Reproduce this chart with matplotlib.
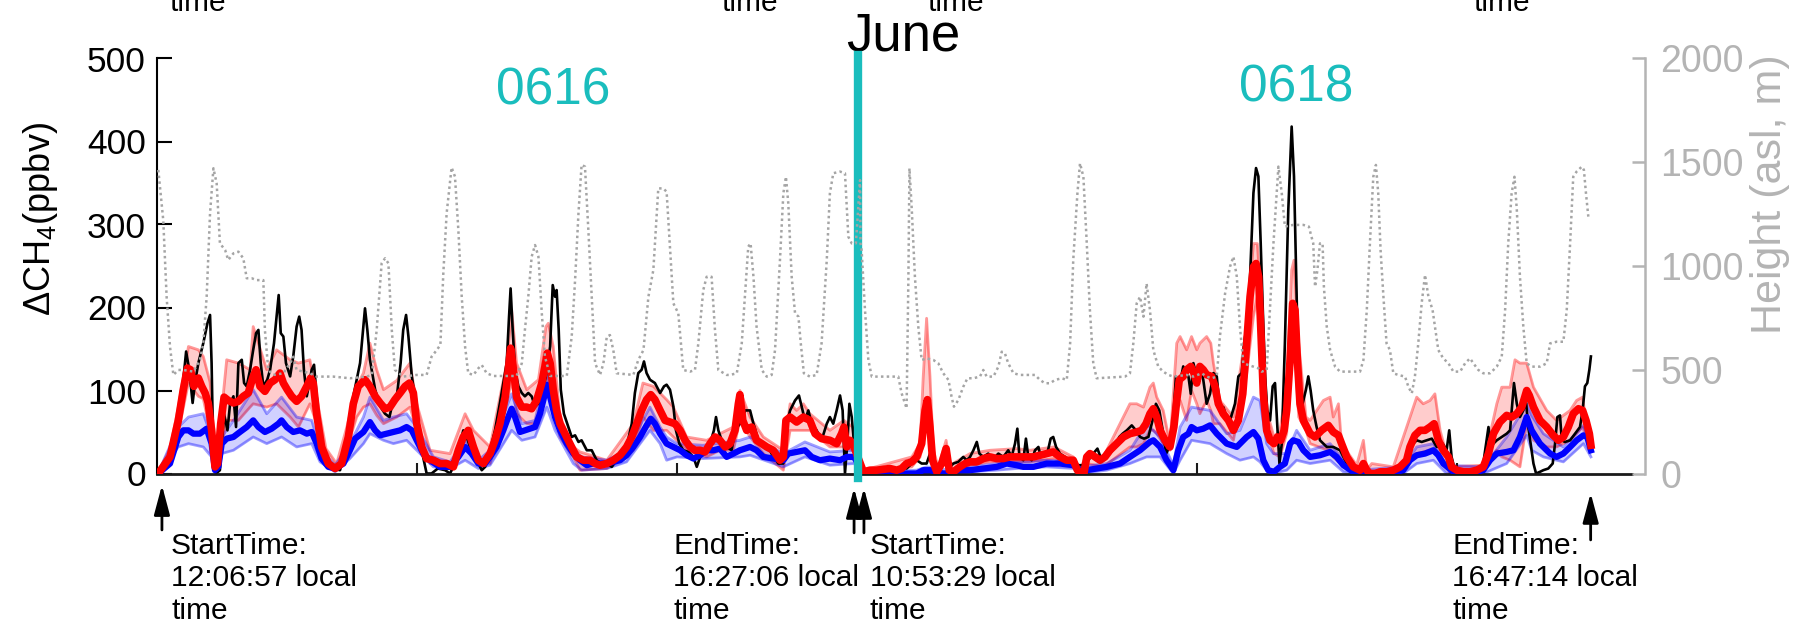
import matplotlib
matplotlib.use("Agg")
import matplotlib.pyplot as plt
import matplotlib.transforms as mtransforms

plt.rcParams['font.family'] = ['Liberation Sans', 'DejaVu Sans']
plt.rcParams['mathtext.fontset'] = 'custom'
plt.rcParams['mathtext.rm'] = 'Liberation Sans'
plt.rcParams['mathtext.it'] = 'Liberation Sans:italic'

# ---------------------------------------------------------------- data
# x is the record counter (tens of records) along the two flights

obs_x = [0.5, 5.0, 7.6, 9.5, 11.2, 12.4, 13.7, 14.6, 15.9, 17.8, 19.4, 20.4, 21.0, 21.7, 22.7, 24.2, 25.8, 27.1, 28.1, 29.4,
         30.4, 31.3, 32.6, 33.5, 34.5, 35.8, 37.0, 38.1, 39.0, 39.9, 40.9, 42.4, 43.5, 45.0, 46.0, 46.8, 47.6, 48.6, 49.6,
         51.2, 52.4, 53.7, 54.7, 55.6, 56.5, 57.6, 58.6, 59.5, 60.4, 61.4, 62.7, 64.6, 67.2, 70.4, 73.0, 75.5, 78.1, 80.0,
         80.9, 81.9, 83.9, 85.8, 87.7, 89.4, 90.9, 92.4, 93.7, 94.7, 95.8, 96.7, 98.0, 99.2, 100.5, 101.8, 103.7, 105.6,
         108.0, 110.8, 112.7, 114.6, 115.9, 117.8, 119.1, 120.4, 121.7, 123.6, 124.9, 126.2, 128.1, 130.0, 131.9, 133.2,
         134.5, 135.4, 136.0, 136.8, 137.7, 139.0, 140.3, 141.5, 142.8, 144.1, 145.4, 147.1, 148.3, 149.6, 151.2, 152.2,
         153.1, 153.7, 154.5, 155.3, 156.5, 157.8, 159.5, 160.8, 162.1, 163.3, 165.3, 167.2, 169.1, 171.0, 173.0, 174.9,
         176.8, 178.7, 180.6, 182.6, 183.8, 185.1, 186.4, 187.3, 188.3, 189.6, 191.5, 193.5, 195.0, 196.0, 197.3, 198.6,
         199.6, 200.9, 202.4, 204.4, 206.3, 207.6, 208.9, 210.8, 212.7, 214.2, 215.0, 215.9, 217.6, 219.1, 221.0, 222.3,
         224.2, 226.2, 228.1, 229.4, 231.3, 233.2, 235.1, 237.0, 239.0, 240.9, 242.2, 243.5, 245.4, 246.9, 248.0, 249.2,
         250.5, 251.8, 253.7, 255.6, 257.6, 258.8, 260.1, 261.4, 262.7, 263.7, 264.6, 265.5, 266.3, 267.2, 268.1,
         271.7, 274.2, 276.8, 279.4, 281.9, 284.5, 286.4, 288.3, 290.3, 292.2, 294.1, 296.0, 297.3, 298.6, 300.5, 302.4,
         304.4, 306.3, 308.2, 310.1, 311.4, 312.7, 314.0, 315.3, 316.3, 317.8, 319.7, 321.7, 323.6, 325.5, 327.4, 328.7,
         330.0, 330.9, 331.7, 333.2, 334.2, 335.1, 336.4, 337.7, 339.0, 339.9, 341.2, 342.4, 343.7, 344.7, 345.8, 347.3,
         349.2, 351.2, 353.1, 354.4, 356.3, 358.2, 360.1, 361.7, 363.3, 365.0, 366.5, 368.5, 370.1, 371.4, 373.0, 374.9,
         376.5, 378.1, 379.6, 381.3, 382.9, 384.2, 385.5, 386.8, 388.1, 389.4, 390.9, 391.9, 393.2, 394.7, 395.8, 396.7,
         397.6, 398.6, 399.9, 401.1, 402.4, 403.7, 405.0, 406.3, 407.6, 408.8, 410.1, 411.4, 412.7, 414.6, 415.9, 417.2,
         418.1, 419.1, 420.4, 421.7, 422.7, 423.6, 424.5, 425.3, 426.2, 427.0, 428.1, 429.1, 430.0, 430.9, 431.7, 432.6,
         433.8, 435.1, 436.4, 437.3, 438.3, 439.1, 439.9, 440.9, 441.9, 442.8, 443.7, 444.7, 446.0, 447.3, 449.9, 452.4,
         455.0, 457.6, 460.1, 462.7, 470.0, 479.0, 481.9, 483.2, 484.5, 486.4, 488.3, 490.3, 492.2, 494.5, 496.0, 497.0,
         497.9, 499.2, 502.4, 507.6, 510.1, 512.1, 513.0, 514.0, 515.3, 517.2, 519.1, 520.4, 521.9, 523.0, 524.2, 525.5,
         526.5, 527.4, 528.3, 529.4, 530.4, 531.9, 533.2, 535.1, 536.8, 537.7, 538.6, 539.6, 540.3, 541.5, 543.5, 545.4,
         547.3, 548.3, 549.2, 550.1, 550.9, 551.5]
obs_ch4 = [0, 12, 52, 93, 147, 125, 85, 109, 133, 157, 181, 191, 133, 12, 0, 4, 72, 52, 84, 93,
           56, 133, 137, 109, 105, 125, 149, 169, 173, 133, 105, 113, 125, 157, 189, 215, 169, 165, 133,
           117, 141, 177, 189, 173, 125, 93, 109, 125, 131, 93, 44, 16, 6, 4, 36, 93, 133, 199,
           173, 137, 101, 81, 72, 68, 89, 97, 133, 173, 191, 165, 117, 93, 52, 28, 0, 0,
           6, 4, 0, 12, 28, 52, 44, 32, 20, 12, 4, 8, 28, 52, 85, 109,
           133, 189, 223, 173, 125, 105, 97, 93, 97, 93, 81, 85, 101, 117, 153, 227,
           213, 221, 173, 101, 72, 60, 44, 46, 38, 40, 28, 28, 16, 12, 12, 8,
           16, 28, 32, 60, 97, 121, 125, 135, 121, 113, 109, 97, 105, 107, 101, 81,
           52, 36, 28, 26, 20, 8, 20, 28, 36, 52, 68, 52, 36, 32, 28, 52,
           60, 76, 76, 60, 40, 36, 32, 20, 12, 12, 60, 76, 88, 94, 80, 64,
           76, 60, 52, 40, 60, 68, 60, 76, 94, 76, 0, 36, 84, 68, 36,
           0, 4, 6, 4, 4, 6, 8, 6, 12, 16, 12, 12, 24, 8, 4, 16,
           6, 12, 14, 20, 16, 20, 28, 38, 24, 20, 24, 18, 24, 20, 28, 20,
           36, 54, 20, 16, 42, 20, 16, 28, 32, 20, 24, 24, 42, 44, 32, 24,
           20, 16, 12, 10, 10, 16, 24, 30, 16, 20, 24, 32, 44, 48, 52, 58,
           52, 44, 42, 44, 64, 84, 76, 52, 24, 32, 68, 117, 105, 129, 121, 117,
           96, 133, 117, 129, 113, 84, 96, 121, 117, 76, 80, 68, 64, 84, 117, 121,
           157, 177, 237, 338, 368, 358, 277, 197, 117, 76, 64, 105, 109, 56, 12, 36,
           157, 317, 418, 358, 217, 96, 76, 88, 101, 117, 100, 76, 56, 40, 32, 32,
           28, 12, 4, 0, 0, 0, 36, 36, 40, 38, 40, 42, 32, 36, 28, 52,
           20, 4, 0, 0, 12, 56, 32, 36, 40, 44, 48, 52, 109, 84, 68, 76,
           88, 56, 36, 12, 0, 2, 4, 6, 12, 36, 68, 70, 40, 38, 40, 48,
           56, 76, 105, 109, 125, 141]

# model run A (red): central estimate
mod_a_x = [0.5, 5.0, 8.2, 10.1, 11.7, 12.9, 14.2, 15.9, 17.2, 18.5, 19.7, 21.0, 22.3, 23.3, 24.5, 25.8, 27.4, 29.4, 31.3,
           33.2, 35.1, 37.0, 38.1, 39.6, 41.5, 43.5, 45.4, 47.3, 48.6, 50.1, 51.8, 53.7, 55.6, 57.6, 59.1, 60.1, 61.4,
           63.3, 65.9, 68.5, 71.0, 73.6, 75.5, 77.4, 80.0, 81.9, 83.9, 85.8, 87.7, 89.6, 91.5, 93.5, 95.4, 97.1, 98.6,
           99.9, 101.8, 103.7, 106.3, 108.85, 111.4, 114.0, 115.9, 117.8, 119.7, 121.7, 123.6, 125.5, 128.1, 130.0,
           131.9, 133.9, 135.1, 136.0, 137.1, 138.3, 140.3, 142.2, 144.1, 146.0, 148.0, 149.2, 150.1, 151.2, 152.4,
           153.7, 155.0, 156.9, 158.8, 161.4, 164.0, 166.5, 168.5, 170.4, 173.0, 175.5, 178.1, 180.6, 182.6, 184.5,
           186.4, 188.3, 189.9, 191.5, 193.5, 195.4, 197.3, 199.2, 201.2, 203.1, 205.0, 206.9, 208.9, 210.8, 212.7,
           214.6, 216.5, 218.5, 220.4, 222.3, 223.6, 224.2, 225.3, 226.8, 228.7, 230.6, 232.6, 234.5, 237.0, 239.6,
           240.9, 241.9, 243.5, 246.0, 248.6, 251.1, 253.1, 255.6, 258.8, 261.4, 263.3, 264.2, 265.3, 266.5, 267.6,
           271.7, 274.2, 276.8, 279.4, 281.9, 284.5, 286.4, 288.3, 290.3, 292.2, 294.1, 295.4, 296.3, 297.3, 298.3,
           299.9, 301.8, 303.5, 304.7, 306.3, 308.8, 310.8, 312.7, 315.3, 317.8, 320.4, 323.0, 325.5, 328.1, 330.6,
           333.2, 335.8, 337.1, 339.6, 342.2, 344.7, 347.3, 349.9, 352.4, 354.0, 355.3, 356.5, 357.6, 358.8, 360.8,
           362.7, 364.6, 366.5, 369.1, 371.7, 374.2, 376.8, 378.7, 380.4, 381.9, 383.2, 384.5, 385.8, 387.7, 389.6,
           391.1, 392.2, 393.2, 394.7, 396.0, 397.6, 398.8, 399.9, 401.1, 402.4, 403.7, 405.6, 406.9, 408.2, 410.1,
           412.1, 414.0, 415.9, 417.6, 419.1, 420.4, 421.7, 422.7, 423.7, 424.5, 425.5, 426.8, 428.1, 429.6, 430.9,
           432.2, 433.5, 434.5, 435.8, 436.8, 437.7, 438.6, 439.6, 440.9, 442.2, 443.5, 445.4, 447.9, 450.5, 452.4,
           454.4, 455.6, 457.6, 460.1, 462.7, 464.0, 465.3, 466.5, 468.5, 470.4, 473.1, 475.5, 478.1, 480.6, 481.9,
           483.8, 485.8, 487.7, 489.6, 491.2, 492.8, 494.7, 496.7, 497.9, 499.9, 502.4, 505.0, 507.6, 510.1, 512.1,
           514.0, 516.5, 519.1, 521.0, 523.0, 524.9, 526.8, 527.8, 529.4, 531.9, 534.5, 537.0, 539.0, 540.9, 542.8,
           544.7, 546.7, 548.3, 549.6, 550.9, 551.5]
mod_a = [0, 20, 64, 101, 127, 125, 105, 115, 105, 97, 85, 52, 8, 12, 60, 92, 88, 85, 87,
         93, 97, 117, 125, 105, 99, 109, 113, 121, 109, 101, 93, 87, 93, 105, 115, 109, 72,
         32, 12, 6, 12, 44, 84, 105, 113, 105, 93, 85, 78, 80, 89, 97, 105, 109, 97,
         60, 32, 18, 16, 12, 12, 8, 28, 44, 52, 32, 16, 12, 24, 40,
         60, 92, 125, 151, 125, 92, 80, 80, 78, 88, 109, 129, 145, 133, 101,
         76, 60, 48, 36, 20, 16, 16, 12, 10, 12, 16, 22, 32, 44, 60,
         76, 89, 95, 89, 76, 64, 62, 60, 52, 40, 32, 28, 28, 26, 36,
         44, 40, 32, 36, 52, 84, 95, 64, 52, 56, 40, 36, 32, 28, 16,
         20, 64, 68, 62, 68, 64, 48, 42, 40, 36, 48, 56, 32, 40, 36,
         2, 4, 4, 5, 6, 4, 6, 12, 14, 20, 36, 76, 89, 56, 16,
         2, 12, 30, 4, 2, 8, 12, 14, 14, 18, 20, 18, 18, 20, 20,
         20, 20, 20, 22, 24, 26, 20, 16, 16, 4, 0, 0, 20, 24, 20,
         16, 20, 28, 36, 44, 48, 50, 52, 60, 72, 78, 68, 52, 40, 32,
         56, 88, 113, 117, 125, 129, 121, 109, 129, 125, 119, 117, 105, 84, 72,
         64, 52, 64, 96, 157, 213, 249, 253, 237, 177, 96, 52, 40, 36, 44,
         40, 52, 76, 137, 205, 197, 137, 84, 64, 56, 48, 44, 52, 58, 50,
         46, 36, 20, 8, 4, 12, 4, 0, 0, 2, 2, 4, 8, 16, 32,
         46, 52, 52, 56, 60, 40, 28, 20, 8, 4, 2, 2, 4, 8, 24,
         48, 62, 70, 68, 72, 80, 100, 94, 80, 64, 56, 46, 40, 44, 56,
         72, 78, 76, 64, 48, 34]

# model run A (red): spread of the ensemble
band_a_x = [0.5, 5.0, 8.2, 12.1, 15.9, 17.8, 20.4, 21.7, 22.9, 26.8, 31.3, 35.8, 37.0, 42.2, 46.0, 51.2, 54.4, 58.8,
            61.4, 65.0, 69.1, 73.0, 76.8, 79.4, 81.9, 84.5, 87.1, 92.2, 97.3, 99.9, 105.0, 112.7, 118.5, 121.7,
            128.1, 134.5, 136.4, 138.3, 142.2, 146.7, 149.6, 150.5, 152.4, 155.0, 160.1, 162.7, 173.0, 183.2,
            186.9, 190.9, 196.0, 198.6, 203.7, 211.4, 216.5, 221.7, 224.2, 228.1, 233.2, 240.9, 243.5, 246.0,
            248.6, 251.1, 258.8, 264.2, 267.6,
            271.7, 290.3, 293.5, 294.7, 296.0, 297.3, 298.6, 300.5, 303.5, 305.0, 312.7, 320.4, 330.6, 335.8,
            345.0, 352.4, 355.0, 357.6, 364.0, 369.1, 374.2, 376.8, 379.4, 381.9, 383.2, 384.5, 387.0, 389.6,
            392.2, 393.5, 396.0, 397.9, 399.9, 401.1, 403.7, 405.3, 406.3, 408.8, 414.0, 419.1, 421.7, 423.2,
            424.9, 426.8, 429.6, 431.9, 434.5, 436.4, 437.3, 439.1, 441.9, 443.5, 448.6, 451.2, 452.4, 454.4,
            455.6, 461.4, 464.0, 465.3, 467.2, 475.5, 481.9, 484.5, 487.0, 489.6, 491.5, 493.5, 497.3, 510.1,
            515.3, 517.2, 520.4, 522.3, 524.2, 526.8, 529.4, 534.5, 538.3, 543.5, 546.0, 548.3, 550.1, 551.5]
band_a_lo = [0, 10, 50, 109, 93, 90, 52, 10, 2, 64, 64, 80, 84, 80, 84, 68, 56, 84,
             60, 14, 4, 30, 68, 80, 84, 70, 60, 68, 80, 52, 12, 8, 32, 20,
             12, 84, 113, 72, 60, 60, 109, 115, 84, 44, 20, 4, 6, 28,
             68, 52, 52, 44, 28, 20, 28, 28, 64, 44, 24, 4, 52, 52,
             52, 52, 32, 32, 28,
             0, 8, 20, 36, 76, 48, 12, 0, 20, 0, 10, 14, 14, 14,
             18, 8, 0, 12, 8, 20, 32, 32, 36, 52, 52, 48, 36, 28,
             88, 88, 64, 100, 84, 72, 88, 76, 60, 60, 40, 120, 189, 213,
             120, 52, 24, 20, 48, 149, 165, 68, 52, 36, 30, 28, 20, 14,
             12, 2, 4, 0, 0, 2, 20, 24, 26, 28, 24, 20, 0, 4,
             28, 20, 16, 12, 8, 60, 40, 32, 32, 40, 48, 56, 40, 30]
band_a_hi = [2, 30, 80, 153, 149, 141, 110, 60, 12, 137, 133, 125, 177, 125, 149, 137, 133, 137,
             92, 30, 12, 56, 105, 121, 157, 125, 101, 112, 133, 84, 28, 24, 72, 52,
             32, 133, 197, 133, 101, 113, 177, 181, 153, 68, 32, 26, 16, 60,
             109, 105, 89, 80, 44, 40, 48, 56, 100, 68, 44, 28, 84, 76,
             84, 72, 52, 64, 56,
             4, 20, 36, 117, 187, 117, 28, 8, 40, 10, 24, 28, 30, 28,
             32, 20, 4, 24, 20, 52, 84, 84, 80, 104, 109, 92, 76, 36,
             157, 165, 149, 165, 149, 157, 165, 157, 133, 88, 68, 177, 277, 277,
             197, 76, 44, 52, 105, 245, 257, 157, 68, 64, 88, 92, 68, 84,
             36, 10, 40, 4, 12, 8, 68, 92, 84, 88, 96, 52, 8, 10,
             84, 104, 104, 137, 133, 133, 104, 76, 64, 76, 88, 92, 52, 36]

# model run B (blue): central estimate
mod_b_x = [0.5, 5.0, 8.2, 10.1, 12.1, 14.0, 16.5, 19.1, 21.0, 22.3, 23.6, 24.9, 26.8, 29.4, 31.9, 34.5, 37.0, 39.0,
           41.5, 44.1, 46.7, 47.9, 49.9, 52.4, 55.0, 57.6, 59.5, 61.4, 63.3, 65.9, 68.5, 71.7, 74.2, 76.2, 79.4,
           81.9, 83.9, 85.8, 88.3, 90.9, 93.5, 96.0, 98.0, 99.9, 102.4, 105.0, 108.85, 112.7, 115.9, 118.5, 121.0,
           123.6, 126.2, 128.1, 130.6, 133.2, 135.1, 136.4, 137.7, 139.6, 141.5, 143.5, 145.4, 147.3, 149.2,
           149.9, 151.2, 153.1, 155.0, 157.6, 160.1, 162.7, 165.3, 167.8, 170.4, 173.0, 175.5, 178.1, 180.6,
           183.2, 185.8, 188.3, 189.9, 191.5, 193.5, 196.0, 198.6, 201.2, 203.7, 206.3, 208.9, 211.4, 214.0,
           216.5, 219.1, 221.7, 224.2, 228.1, 230.6, 233.2, 237.0, 240.9, 242.8, 246.0, 249.2, 251.8, 255.0,
           258.8, 262.7, 265.3, 268.1,
           271.7, 292.2, 294.7, 297.3, 302.4, 304.7, 307.6, 312.7, 317.8, 323.0, 326.8, 330.6, 333.2, 337.1,
           342.2, 347.3, 352.4, 355.0, 357.6, 361.4, 365.3, 370.4, 374.2, 378.1, 381.9, 383.2, 385.8, 388.3,
           390.9, 392.8, 394.7, 396.7, 397.9, 399.9, 402.4, 405.0, 407.6, 411.4, 415.3, 419.1, 421.7, 423.6,
           425.5, 427.4, 429.6, 431.9, 433.8, 435.8, 437.0, 439.0, 440.9, 443.5, 447.3, 451.2, 453.7, 456.3,
           460.1, 464.0, 474.2, 479.3, 481.9, 484.5, 487.7, 490.9, 492.8, 494.7, 498.6, 505.0, 510.1, 512.7,
           515.3, 519.1, 521.7, 524.2, 526.8, 528.7, 531.9, 535.8, 538.3, 540.9, 543.5, 546.0, 548.6, 550.1, 551.5]
mod_b = [0, 12, 44, 52, 52, 48, 48, 54, 36, 4, 8, 36, 42, 44, 50, 56, 64, 56,
         50, 54, 60, 64, 56, 50, 52, 48, 50, 36, 18, 8, 6, 12, 28, 42, 50,
         62, 52, 46, 48, 50, 52, 56, 52, 40, 24, 16, 8, 8, 20, 32, 24,
         12, 12, 20, 32, 52, 68, 78, 68, 50, 52, 54, 56, 72, 96,
         107, 92, 68, 52, 36, 24, 16, 10, 12, 12, 12, 14, 16, 22,
         32, 44, 58, 66, 60, 48, 36, 32, 28, 22, 18, 22, 28, 28,
         30, 20, 24, 28, 32, 28, 20, 18, 16, 24, 26, 28, 20, 16,
         18, 16, 20, 20,
         0, 0, 4, 4, 0, 0, 4, 4, 6, 8, 12, 10, 8, 8,
         12, 12, 10, 4, 4, 6, 8, 12, 20, 28, 38, 40, 32, 16,
         4, 28, 44, 48, 56, 52, 54, 58, 48, 36, 32, 44, 50, 42,
         16, 4, 2, 8, 12, 36, 40, 38, 28, 20, 22, 26, 20, 10,
         2, 0, 0, 4, 16, 22, 24, 28, 22, 12, 2, 0, 4, 16,
         24, 26, 28, 44, 68, 52, 36, 24, 20, 24, 32, 40, 46, 44, 28]

# model run B (blue): spread of the ensemble
band_b_x = [0.5, 8.2, 12.1, 17.8, 21.0, 22.5, 24.9, 29.4, 37.0, 42.2, 47.9, 53.7, 59.5, 62.7, 68.5, 74.2, 79.4, 81.9,
            87.1, 90.9, 96.0, 99.9, 106.3, 112.7, 118.5, 123.6, 128.1, 136.4, 140.3, 145.4, 149.9, 153.1, 160.1,
            163.3, 173.0, 180.6, 189.6, 193.5, 196.0, 200.0, 210.0, 224.2, 228.1, 240.9, 249.2, 258.8, 268.1,
            271.7, 292.2, 296.0, 304.7, 312.7, 323.0, 330.6, 342.2, 352.4, 355.0, 365.3, 374.2, 380.6, 385.8,
            390.9, 393.5, 397.9, 405.0, 411.4, 416.5, 421.7, 424.2, 426.8, 429.4, 434.5, 438.3, 443.5, 451.2,
            456.3, 462.0, 479.3, 484.5, 490.9, 496.0, 510.1, 519.1, 526.8, 528.7, 533.2, 540.9, 548.6, 551.5]
band_b_lo = [0, 32, 36, 32, 20, 0, 24, 28, 44, 36, 44, 32, 36, 14, 2, 18, 36, 48,
             40, 36, 40, 28, 8, 6, 16, 6, 10, 52, 40, 44, 80, 52, 12,
             4, 6, 14, 52, 36, 16, 20, 18, 20, 22, 8, 20, 10, 12,
             0, 0, 0, 0, 2, 4, 6, 8, 6, 0, 4, 12, 20, 20,
             0, 16, 40, 36, 24, 16, 20, 14, 4, 0, 4, 16, 12, 16,
             2, 0, 0, 12, 16, 0, 0, 12, 46, 28, 20, 14, 36, 20]
band_b_hi = [1, 56, 68, 72, 44, 8, 44, 64, 101, 72, 92, 68, 64, 30, 10, 36, 68, 92,
             64, 68, 72, 56, 20, 14, 40, 16, 28, 96, 60, 64, 125, 76, 28,
             20, 16, 28, 80, 56, 44, 36, 34, 40, 44, 24, 38, 26, 28,
             2, 4, 8, 4, 8, 12, 14, 16, 14, 8, 12, 28, 60, 44,
             10, 56, 80, 76, 48, 52, 92, 88, 36, 24, 24, 52, 28, 36,
             16, 4, 8, 32, 36, 10, 8, 44, 84, 70, 48, 32, 58, 32]

# aircraft altitude (m above sea level)
alt_x = [0.5, 2.4, 3.7, 5.0, 6.3, 8.2, 10.1, 14.0, 16.5, 17.8, 19.1, 20.4, 21.7, 22.95, 24.2, 26.2, 27.4, 29.4, 31.3,
         33.2, 34.5, 36.4, 38.3, 40.9, 41.5, 42.8, 44.7, 48.6, 51.2, 52.4, 53.7, 58.8, 61.4, 67.8, 74.2, 80.6, 82.6,
         84.5, 86.4, 87.7, 89.0, 90.3, 91.5, 94.7, 99.9, 103.7, 105.6, 107.6, 109.0, 110.1, 111.4, 113.3, 114.6,
         115.9, 117.2, 118.5, 119.7, 121.7, 123.6, 124.9, 126.8, 129.4, 138.3, 140.3, 141.5, 142.8, 144.1, 145.4,
         146.7, 148.0, 149.2, 151.2, 157.6, 159.5, 160.8, 162.1, 163.3, 164.6, 165.9, 167.2, 168.5, 170.4, 171.7,
         173.0, 174.2, 175.5, 176.8, 183.2, 185.1, 187.1, 189.0, 190.9, 192.8, 194.7, 196.0, 197.3, 198.6, 200.5,
         202.4, 205.0, 206.9, 208.2, 210.1, 211.4, 213.3, 214.6, 215.9, 219.1, 220.4, 223.0, 224.9, 226.2, 227.4,
         228.3, 229.4, 230.6, 232.6, 234.5, 236.4, 237.7, 239.6, 240.9, 241.9, 242.8, 244.1, 245.4, 246.7, 247.6,
         248.8, 251.1, 253.7, 255.6, 257.6, 258.8, 260.1, 262.7, 264.6, 265.9, 267.2, 268.8,
         270.4, 270.6, 271.0, 272.3, 273.6, 274.9, 285.1, 286.4, 288.3, 289.0, 289.4, 290.3, 291.5, 292.8, 294.1,
         296.0, 298.6, 300.5, 302.4, 304.4, 305.6, 306.5, 308.2, 310.1, 311.7, 314.0, 316.5, 317.8, 319.1, 321.7,
         323.6, 324.9, 326.1, 327.4, 329.4, 331.9, 337.7, 339.6, 341.5, 343.5, 345.4, 348.0, 349.9, 351.2, 352.4,
         354.0, 355.0, 356.3, 357.6, 358.8, 360.1, 361.4, 372.3, 374.2, 375.5, 376.8, 378.1, 379.4, 380.6, 381.9,
         383.2, 385.1, 387.0, 389.0, 390.9, 396.0, 398.6, 401.8, 403.7, 405.6, 407.6, 408.8, 410.8, 412.7, 414.0,
         415.3, 416.5, 417.8, 421.7, 423.6, 424.9, 426.8, 429.4, 431.3, 432.6, 433.8, 437.0, 440.9, 443.0, 444.7,
         445.4, 446.3, 447.3, 448.3, 448.8, 449.9, 451.2, 453.1, 455.0, 462.7, 464.0, 465.3, 466.5, 467.8, 468.8,
         469.7, 470.6, 471.7, 472.9, 474.2, 475.5, 477.4, 480.0, 481.3, 482.6, 483.8, 485.1, 486.4, 487.7, 489.0,
         490.6, 491.5, 492.8, 494.7, 496.7, 498.6, 501.2, 503.1, 505.0, 506.3, 508.2, 510.1, 512.7, 515.3, 517.2,
         518.5, 519.7, 521.0, 522.1, 523.0, 524.2, 525.5, 526.8, 528.7, 531.9, 534.5, 535.8, 538.3, 540.9, 542.2,
         543.5, 544.7, 546.0, 548.0, 548.8, 549.6, 550.5]
alt_m = [1463, 1222, 852, 611, 475, 499, 499, 491, 547, 627, 852, 1254, 1471, 1398, 1109, 1077, 1029, 1061, 1069,
         1037, 941, 941, 932, 932, 692, 499, 475, 483, 531, 563, 499, 483, 467, 467, 459, 467, 475,
         692, 1013, 1037, 1013, 692, 499, 467, 475, 475, 563, 595, 620, 960, 1254, 1475, 1431,
         1174, 852, 611, 483, 475, 507, 523, 483, 470, 470, 531, 692, 852, 1045, 1101,
         1045, 772, 563, 470, 470, 660, 932, 1254, 1487, 1479, 1174, 852, 531, 475, 531,
         660, 667, 595, 483, 475, 547, 595, 852, 981, 1374, 1374, 1358, 1093, 820, 772,
         499, 491, 499, 627, 884, 948, 948, 692, 499, 475, 475, 483, 627, 868, 1093,
         1109, 949, 708, 499, 467, 475, 595, 1029, 1350, 1430, 1302, 949, 772, 756, 627,
         483, 467, 475, 627, 1029, 1350, 1447, 1455, 1447, 1141, 1109, 1109,
         1414, 1109, 1077, 788, 547, 467, 467, 386, 314, 949, 1471, 1270, 949, 708, 547,
         555, 547, 531, 483, 451, 370, 322, 354, 418, 459, 459, 467, 499, 467, 467,
         515, 587, 579, 531, 483, 475, 475, 451, 435, 435, 451, 459, 451, 627, 1029,
         1350, 1495, 1430, 1109, 788, 531, 459, 467, 483, 627, 820, 852, 756, 916, 788,
         595, 515, 491, 475, 467, 475, 467, 483, 467, 459, 467, 660, 868, 997, 1045,
         949, 708, 531, 515, 507, 491, 499, 1109, 1479, 1350, 1190, 1198, 1198, 1190, 1109,
         900, 981, 1109, 1109, 900, 708, 595, 515, 491, 491, 547, 788, 1109, 1430, 1487,
         1350, 1077, 852, 627, 595, 483, 475, 467, 418, 386, 467, 627, 820, 957, 852,
         788, 708, 595, 555, 531, 491, 491, 531, 555, 531, 499, 483, 483, 515, 563,
         788, 1109, 1350, 1430, 1270, 949, 708, 531, 515, 515, 531, 627, 635, 635, 788,
         1109, 1430, 1455, 1479, 1463, 1350, 1238]

# flight start / end markers
flight_marks = [1.9, 268.1, 271.9, 551.4]
flight_labels = ["StartTime:\n12:06:57 local\ntime", "EndTime:\n16:27:06 local\ntime",
                 "StartTime:\n10:53:29 local\ntime", "EndTime:\n16:47:14 local\ntime"]
day_split = 269.7
day_names = ["0616", "0618"]
month_name = "June"

# ---------------------------------------------------------------- style
TEAL = '#1ABDBD'
AX_GRAY = '#B4B4B4'
ALT_GRAY = '#A5A5A5'
RED = '#FF0000'
BLUE = '#0000FF'

W, H = 1804, 629
fig = plt.figure(figsize=(W / 100, H / 100), dpi=100)
ax = fig.add_axes([157 / W, 155.5 / H, 1488 / W, 415 / H])
ax2 = ax.twinx()

# ensemble spreads
ax.fill_between(band_a_x, band_a_lo, band_a_hi, color=RED, alpha=0.2, lw=0, zorder=1)
ax.plot(band_a_x, band_a_lo, color=RED, alpha=0.4, lw=2.0, zorder=1.1)
ax.plot(band_a_x, band_a_hi, color=RED, alpha=0.4, lw=2.0, zorder=1.1)
ax.fill_between(band_b_x, band_b_lo, band_b_hi, color=BLUE, alpha=0.18, lw=0, zorder=1.2)
ax.plot(band_b_x, band_b_lo, color=BLUE, alpha=0.38, lw=2.0, zorder=1.3)
ax.plot(band_b_x, band_b_hi, color=BLUE, alpha=0.38, lw=2.0, zorder=1.3)

ax.plot(obs_x, obs_ch4, color='black', lw=1.9, zorder=2)
ax.plot(mod_b_x, mod_b, color=BLUE, lw=4.5, zorder=3, solid_joinstyle='round')
ax.plot(mod_a_x, mod_a, color=RED, lw=5.5, zorder=4, solid_joinstyle='round')

ax.axvline(day_split, ymin=-0.01, ymax=1.008, color=TEAL, lw=6, zorder=5, clip_on=False)

ax2.plot(alt_x, alt_m, color=ALT_GRAY, lw=1.8, linestyle=(0, (1.0, 1.3)))

# ---------------------------------------------------------------- axes
ax.set_xlim(0, 572.3)
ax.set_ylim(0, 500)
ax2.set_ylim(0, 2000)

for s in ['top', 'right']:
    ax.spines[s].set_visible(False)
for s in ['top', 'left', 'bottom']:
    ax2.spines[s].set_visible(False)
ax.spines['left'].set_linewidth(1.5)
ax.spines['bottom'].set_linewidth(2.0)
ax.spines['bottom'].set_color('#1a1a1a')
ax.spines['bottom'].set_bounds(0, 567.3)
ax2.spines['right'].set_color(AX_GRAY)
ax2.spines['right'].set_linewidth(1.8)

ax.set_yticks([0, 100, 200, 300, 400, 500])
ax.set_xticks([100, 200, 300, 400, 500])
ax.tick_params(axis='y', direction='in', length=11, width=1.5, labelsize=25.5, pad=8)
ax.tick_params(axis='x', direction='in', length=8, width=1.5, labelbottom=False, color='#1a1a1a')
ax2.set_yticks([0, 500, 1000, 1500, 2000])
ax2.tick_params(axis='y', direction='in', length=9.5, width=1.8, labelsize=27, pad=11,
                colors=AX_GRAY)

ax.set_ylabel(r'$\Delta$CH$_4$(ppbv)', fontsize=26)
ax.yaxis.set_label_coords(-0.065, 0.613)
ax2.set_ylabel('Height (asl, m)', fontsize=31, color=AX_GRAY)
ax2.yaxis.set_label_coords(1.0705, 0.672)

ax.set_zorder(ax2.get_zorder() - 1)

# ---------------------------------------------------------------- labels
ax.text(152.3, 444, day_names[0], color=TEAL, fontsize=37, ha='center', va='baseline')
ax.text(438.0, 448, day_names[1], color=TEAL, fontsize=37, ha='center', va='baseline')
ax.text(265.0, 510, month_name, fontsize=38, ha='left', va='baseline', clip_on=False)

trans = mtransforms.blended_transform_factory(ax.transData, ax.transAxes)
tips = [-0.028, -0.035, -0.035, -0.047]
tails = [-0.136, -0.143, -0.143, -0.160]
for xm, yt, yb in zip(flight_marks, tips, tails):
    ax.annotate('', xy=(xm, yt), xycoords=trans, xytext=(xm, yb), textcoords=trans,
                arrowprops=dict(arrowstyle='-|>,head_length=0.6,head_width=0.16',
                                mutation_scale=30, lw=2, color='black',
                                shrinkA=0, shrinkB=0),
                annotation_clip=False)

text_x = [5.4, 198.5, 274.2, 498.1]
for xt, lab in zip(text_x, flight_labels):
    ax.text(xt, -0.140, lab, transform=trans, fontsize=21.5, ha='left', va='top',
            linespacing=1.22, clip_on=False)

# tail of the caption row above, cut by the top edge
for xp in [170, 722, 927, 1473]:
    fig.text(xp / W, 1 - 11 / H, 'time', fontsize=21.5, ha='left', va='baseline')

fig.savefig('out.png', dpi=100)
